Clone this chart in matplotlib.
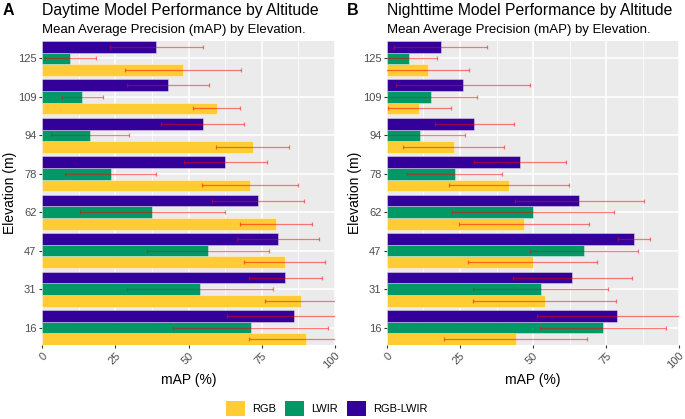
import matplotlib
matplotlib.use("Agg")
import matplotlib.pyplot as plt
import numpy as np
from matplotlib.patches import Patch

plt.rcParams['font.family'] = ['Liberation Sans', 'DejaVu Sans']

elevations = ["16", "31", "47", "62", "78", "94", "109", "125"]
series = ["RGB", "LWIR", "RGB-LWIR"]
colors = {"RGB": "#FFCC33", "LWIR": "#009966", "RGB-LWIR": "#330099"}

# Daytime
day_rgb = [90.1, 88.5, 82.8, 79.9, 71.0, 71.9, 59.6, 48.1]
day_rgb_sd = [19.6, 12.3, 13.9, 12.2, 16.4, 12.5, 7.9, 19.7]
day_lwir = [71.2, 53.8, 56.7, 37.6, 23.4, 16.4, 13.8, 9.7]
day_lwir_sd = [26.5, 24.9, 20.7, 24.7, 15.6, 13.4, 7.0, 8.75]
day_fused = [86.1, 83.1, 80.6, 73.7, 62.6, 54.9, 42.9, 39.0]
day_fused_sd = [23.0, 12.6, 13.9, 15.6, 14.2, 14.2, 14.0, 15.8]

# Nighttime
night_rgb = [44.1, 54.0, 49.9, 47.0, 41.8, 22.8, 11.1, 13.9]
night_rgb_sd = [24.5, 24.5, 22.0, 22.2, 20.4, 17.3, 10.9, 14.2]
night_lwir = [73.9, 52.6, 67.4, 50.0, 23.2, 11.3, 15.0, 7.4]
night_lwir_sd = [21.5, 23.2, 18.5, 27.6, 16.3, 15.5, 15.9, 9.6]
night_fused = [78.8, 63.5, 84.6, 65.9, 45.5, 29.9, 26.1, 18.4]
night_fused_sd = [27.3, 20.4, 5.6, 22.1, 15.7, 13.5, 22.9, 16.0]

panels = [
    ("A", "Daytime Model Performance by Altitude",
     {"RGB": (day_rgb, day_rgb_sd), "LWIR": (day_lwir, day_lwir_sd),
      "RGB-LWIR": (day_fused, day_fused_sd)}),
    ("B", "Nighttime Model Performance by Altitude",
     {"RGB": (night_rgb, night_rgb_sd), "LWIR": (night_lwir, night_lwir_sd),
      "RGB-LWIR": (night_fused, night_fused_sd)}),
]

W, H = 685, 419
fig = plt.figure(figsize=(W / 100, H / 100), dpi=100)

axes_px = [(42, 335), (387, 679)]
tag_px = [3, 347]
top_px, bot_px = 41, 345
offsets = {"RGB": -0.3, "LWIR": 0.0, "RGB-LWIR": 0.3}
grey_text = "#4D4D4D"

for (tag, title, data), (x0, x1), tx in zip(panels, axes_px, tag_px):
    ax = fig.add_axes([x0 / W, 1 - bot_px / H, (x1 - x0) / W, (bot_px - top_px) / H])
    ax.set_facecolor("#EBEBEB")
    y = np.arange(len(elevations))
    for s in series:
        vals, sds = data[s]
        vals = np.array(vals); sds = np.array(sds)
        ax.barh(y + offsets[s], vals, height=0.3, color=colors[s],
                edgecolor=(1, 1, 1, 0.45), linewidth=0.6, zorder=2)
        ax.errorbar(vals, y + offsets[s], xerr=sds, fmt="none",
                    ecolor=(1, 0, 0, 0.5), elinewidth=0.9, capsize=1.2,
                    capthick=0.9, zorder=3)
    ax.set_xlim(0, 100)
    ax.set_ylim(-0.45, len(elevations) - 0.55)
    ax.set_xticks([0, 25, 50, 75, 100])
    ax.set_xticks([12.5, 37.5, 62.5, 87.5], minor=True)
    ax.set_yticks(y)
    ax.set_yticklabels(elevations)
    ax.set_xticklabels(["0", "25", "50", "75", "100"], rotation=45,
                       ha="right", va="top", rotation_mode="anchor")
    ax.grid(which="major", color="white", linewidth=1.1, zorder=0)
    ax.grid(which="minor", axis="x", color="white", linewidth=0.55, zorder=0)
    ax.set_axisbelow(True)
    for sp in ax.spines.values():
        sp.set_visible(False)
    ax.tick_params(axis="both", which="major", length=2.5, width=0.8,
                   color="#333333", labelcolor=grey_text, labelsize=8, pad=1.5)
    ax.tick_params(axis="both", which="minor", length=0)
    ax.set_xlabel("mAP (%)", fontsize=10, color="black", labelpad=2)
    ax.set_ylabel("Elevation (m)", fontsize=10, color="black", labelpad=0.5)
    fig.text(x0 / W, 1 - 15 / H, title, fontsize=11.3, ha="left",
             va="baseline", color="black")
    fig.text(x0 / W, 1 - 33 / H, "Mean Average Precision (mAP) by Elevation.",
             fontsize=9.5, ha="left", va="baseline", color="black")
    fig.text(tx / W, 1 - 15 / H, tag,
             fontsize=11.5, fontweight="bold", ha="left", va="baseline")

handles = [Patch(facecolor=colors[s], edgecolor="none", label=s) for s in series]
fig.legend(handles=handles, loc="center", bbox_to_anchor=(327 / W, 1 - 408 / H),
           ncol=3, frameon=False, fontsize=8, handlelength=1.7, handleheight=1.7,
           columnspacing=0.8, handletextpad=0.65, borderpad=0)

fig.savefig("out.png", dpi=100)
